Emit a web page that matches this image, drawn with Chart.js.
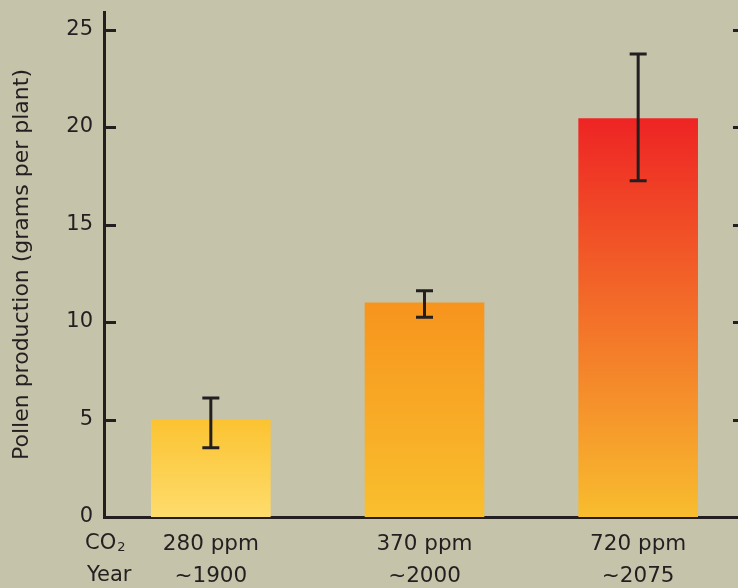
<!DOCTYPE html>
<html>
<head>
<meta charset="utf-8">
<script src="https://cdn.jsdelivr.net/npm/chart.js@4"></script>
<style>
  html, body { margin: 0; padding: 0; background: #c5c3aa; overflow: hidden; }
  #wrap { width: 748px; height: 588px; }
</style>
</head>
<body>
<div id="wrap"><canvas id="pollenChart" width="748" height="588"></canvas></div>
<script>
// data
const co2Labels = ['280 ppm', '370 ppm', '720 ppm'];
const yearLabels = ['~1900', '~2000', '~2075'];
const pollen = [5.0, 11.0, 20.45];
const errLow = [3.55, 10.25, 17.25];
const errHigh = [6.1, 11.6, 23.75];
const yTicks = [0, 5, 10, 15, 20, 25];

// bar gradients, bottom colour -> top colour
const barBottom = ['#fedc6c', '#f9bf2e', '#f8bd2e'];
const barTop = ['#fbc331', '#f7941d', '#ee2424'];

const INK = '#231f20';
const FONT = 'DejaVu Sans';

function barGradient(ctx) {
    const chart = ctx.chart;
    if (!chart.chartArea) return barTop[ctx.dataIndex];
    const y = chart.scales.y;
    const i = ctx.dataIndex;
    const g = chart.ctx.createLinearGradient(0, y.getPixelForValue(0), 0, y.getPixelForValue(pollen[i]));
    g.addColorStop(0, barBottom[i]);
    g.addColorStop(1, barTop[i]);
    return g;
}

// inward tick marks on both sides + error bars + row captions
const extras = {
    id: 'extras',
    afterDatasetsDraw(chart) {
        const c = chart.ctx;
        const y = chart.scales.y;
        const x = chart.scales.x;
        const area = chart.chartArea;
        c.save();
        c.strokeStyle = INK;
        c.lineWidth = 3;
        yTicks.forEach(v => {
            const py = Math.round(y.getPixelForValue(v)) + 0.5;
            if (v === 0) return;
            c.beginPath();
            c.moveTo(area.left, py);
            c.lineTo(area.left + 12, py);
            c.moveTo(area.right, py);
            c.lineTo(area.right - 12, py);
            c.stroke();
        });
        // right axis line
        c.beginPath();
        c.moveTo(area.right, area.top);
        c.lineTo(area.right, area.bottom);
        c.stroke();

        // error bars
        pollen.forEach((v, i) => {
            const px = x.getPixelForValue(i);
            const y1 = y.getPixelForValue(errLow[i]);
            const y2 = y.getPixelForValue(errHigh[i]);
            c.beginPath();
            c.moveTo(px, y1);
            c.lineTo(px, y2);
            c.moveTo(px - 8.5, y1);
            c.lineTo(px + 8.5, y1);
            c.moveTo(px - 8.5, y2);
            c.lineTo(px + 8.5, y2);
            c.stroke();
        });

        // row captions
        c.fillStyle = INK;
        c.textBaseline = 'middle';
        c.textAlign = 'left';
        c.font = '21px "' + FONT + '"';
        c.fillText('CO', 85, 544);
        const w = c.measureText('CO').width;
        c.font = '13px "' + FONT + '"';
        c.fillText('2', 85 + w + 1, 548);
        c.font = '21px "' + FONT + '"';
        c.fillText('Year', 87, 576);
        c.restore();
    }
};

new Chart(document.getElementById('pollenChart').getContext('2d'), {
    type: 'bar',
    data: {
        labels: co2Labels.map((c, i) => [c, yearLabels[i]]),
        datasets: [{
            data: pollen,
            backgroundColor: barGradient,
            borderWidth: 0,
            categoryPercentage: 1,
            barPercentage: 0.56
        }]
    },
    options: {
        responsive: false,
        animation: false,
        layout: { padding: { top: 12, right: 3, left: 0, bottom: 0 } },
        plugins: {
            legend: { display: false },
            tooltip: { enabled: false }
        },
        scales: {
            x: {
                grid: { display: false, drawTicks: false },
                border: { color: INK, width: 3 },
                ticks: {
                    color: INK,
                    padding: 11,
                    maxRotation: 0,
                    font: { family: FONT, size: 21.5, lineHeight: 1.49 }
                },
                afterFit(scale) { scale.height = 71; }
            },
            y: {
                min: 0,
                max: 25.9,
                afterBuildTicks(scale) { scale.ticks = yTicks.map(v => ({ value: v })); },
                grid: { display: false, drawTicks: false },
                border: { color: INK, width: 3 },
                ticks: {
                    color: INK,
                    padding: 11,
                    font: { family: FONT, size: 21 }
                },
                title: {
                    display: true,
                    text: 'Pollen production (grams per plant)',
                    color: INK,
                    padding: { top: 9, bottom: 0 },
                    font: { family: FONT, size: 22 }
                },
                afterFit(scale) {
                    scale.width = 104;
                    scale.paddingTop = 0;
                    scale.paddingBottom = 0;
                }
            }
        }
    },
    plugins: [extras]
});
</script>
</body>
</html>
